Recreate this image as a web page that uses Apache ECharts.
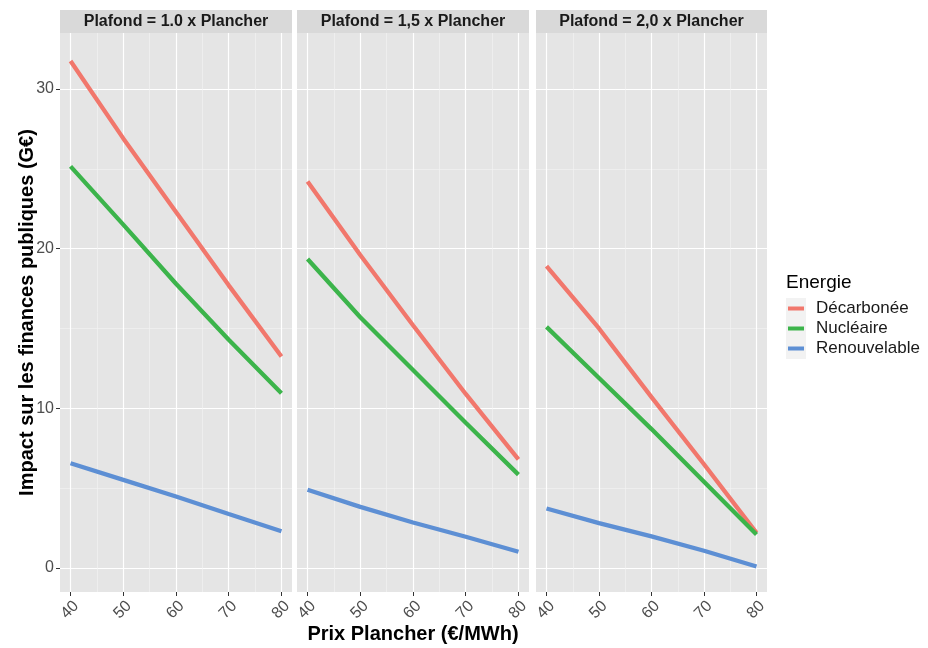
<!DOCTYPE html>
<html>
<head>
<meta charset="utf-8">
<script src="https://cdn.jsdelivr.net/npm/echarts@6/dist/echarts.min.js"></script>
<style>
html,body{margin:0;padding:0;background:#fff;}
#chart{width:928px;height:648px;}
</style>
</head>
<body>
<div id="chart"></div>
<script>
// ---- data ----
const prixPlancher = [40, 50, 60, 70, 80];
const panels = ['Plafond = 1.0 x Plancher', 'Plafond = 1,5 x Plancher', 'Plafond = 2,0 x Plancher'];
const energies = ['Décarbonée', 'Nucléaire', 'Renouvelable'];
const decarbonee = [
  [31.75, 26.9, 22.3, 17.7, 13.25],
  [24.2, 19.6, 15.2, 10.9, 6.8],
  [18.9, 15.0, 10.7, 6.5, 2.2]
];
const nucleaire = [
  [25.15, 21.5, 17.8, 14.3, 10.95],
  [19.35, 15.7, 12.4, 9.1, 5.85],
  [15.1, 11.9, 8.7, 5.4, 2.1]
];
const renouvelable = [
  [6.56, 5.52, 4.48, 3.38, 2.3],
  [4.9, 3.83, 2.85, 1.96, 1.02],
  [3.73, 2.81, 1.98, 1.08, 0.1]
];
const xTicks = [40, 50, 60, 70, 80];
const xMinor = [45, 55, 65, 75];
const yTicks = [0, 10, 20, 30];
const yMinor = [5, 15, 25];

// ---- layout / style ----
const colors = ['#F1776C', '#3CB44B', '#5D8FD4'];
const FONT = '"Liberation Sans", Arial, Helvetica, sans-serif';
const gridBoxes = [
  {left: 60, width: 232},
  {left: 297, width: 232},
  {left: 536, width: 231}
];
const TOP = 33, HEIGHT = 559;

const grids = [], xAxes = [], yAxes = [], series = [], graphics = [];
const valuesBy = [decarbonee, nucleaire, renouvelable];

gridBoxes.forEach((g, i) => {
  grids.push({left: g.left, top: TOP, width: g.width, height: HEIGHT,
    show: true, backgroundColor: '#E5E5E5', borderWidth: 0,
    containLabel: false, outerBoundsMode: 'none'});
  // main x axis
  xAxes.push({
    type: 'value', gridIndex: i, position: 'bottom', min: 38, max: 82,
    axisLine: {show: false, onZero: false},
    axisTick: {show: true, length: 4, customValues: xTicks, lineStyle: {color: '#333', width: 1}},
    axisLabel: {show: true, customValues: xTicks, rotate: 45, margin: 6,
      verticalAlign: 'top',
      color: '#4d4d4d', fontSize: 16, fontFamily: FONT},
    splitLine: {show: true, lineStyle: {color: '#FFFFFF', width: 1.2}},
    name: i === 1 ? 'Prix Plancher (€/MWh)' : '',
    nameLocation: 'middle', nameGap: 32, nameMoveOverlap: false,
    nameTextStyle: {fontSize: 20, fontWeight: 'bold', color: '#000', fontFamily: FONT}
  });
  // minor x axis
  xAxes.push({
    type: 'value', gridIndex: i, position: 'top', min: 38, max: 82,
    axisLine: {show: false, onZero: false},
    axisTick: {show: false, customValues: xMinor},
    axisLabel: {show: false, customValues: xMinor},
    splitLine: {show: true, lineStyle: {color: '#F4F4F4', width: 0.6}}
  });
  // main y axis
  yAxes.push({
    type: 'value', gridIndex: i, position: 'left', min: -1.5, max: 33.5,
    axisLine: {show: false, onZero: false},
    axisTick: {show: i === 0, length: 4, customValues: yTicks, lineStyle: {color: '#333', width: 1}},
    axisLabel: {show: i === 0, customValues: yTicks, margin: 6,
      color: '#4d4d4d', fontSize: 16, fontFamily: FONT},
    splitLine: {show: true, lineStyle: {color: '#FFFFFF', width: 1.2}},
    name: i === 0 ? 'Impact sur les finances publiques (G€)' : '',
    nameLocation: 'middle', nameGap: 23, nameMoveOverlap: false,
    nameTextStyle: {fontSize: 20, fontWeight: 'bold', color: '#000', fontFamily: FONT}
  });
  // minor y axis
  yAxes.push({
    type: 'value', gridIndex: i, position: 'right', min: -1.5, max: 33.5,
    axisLine: {show: false, onZero: false},
    axisTick: {show: false, customValues: yMinor},
    axisLabel: {show: false, customValues: yMinor},
    splitLine: {show: true, lineStyle: {color: '#F4F4F4', width: 0.6}}
  });

  energies.forEach((name, k) => {
    series.push({
      type: 'line', name: name, xAxisIndex: 2 * i, yAxisIndex: 2 * i,
      data: prixPlancher.map((x, j) => [x, valuesBy[k][i][j]]),
      showSymbol: false, symbol: 'none', smooth: false,
      lineStyle: {color: colors[k], width: 4.3, cap: 'butt'},
      itemStyle: {color: colors[k]},
      z: 3
    });
  });

  // facet strip
  graphics.push({
    type: 'group', left: g.left, top: 10,
    children: [
      {type: 'rect', shape: {x: 0, y: 0, width: g.width, height: 23}, style: {fill: '#D9D9D9'}},
      {type: 'text', x: g.width / 2, y: 12, style: {
        text: panels[i], fill: '#1a1a1a', font: 'bold 16px ' + FONT,
        textAlign: 'center', textVerticalAlign: 'middle'}}
    ]
  });
});

// legend key background
graphics.push({type: 'rect', left: 786, top: 298, shape: {width: 20, height: 61}, style: {fill: '#F2F2F2'}, z: -1});
graphics.push({type: 'text', left: 786, top: 273, style: {text: 'Energie', fill: '#000', font: '19px ' + FONT}});

const option = {
  backgroundColor: '#FFFFFF',
  animation: false,
  grid: grids,
  xAxis: xAxes,
  yAxis: yAxes,
  series: series,
  legend: {
    data: energies, orient: 'vertical', left: 788, top: 300,
    icon: 'rect', itemWidth: 16, itemHeight: 4, itemGap: 3,
    textStyle: {fontSize: 17, color: '#1a1a1a', fontFamily: FONT, padding: [0, 0, 0, 7]},
    padding: 0
  },
  graphic: graphics
};
const chart = echarts.init(document.getElementById('chart'));
chart.setOption(option);
</script>
</body>
</html>
